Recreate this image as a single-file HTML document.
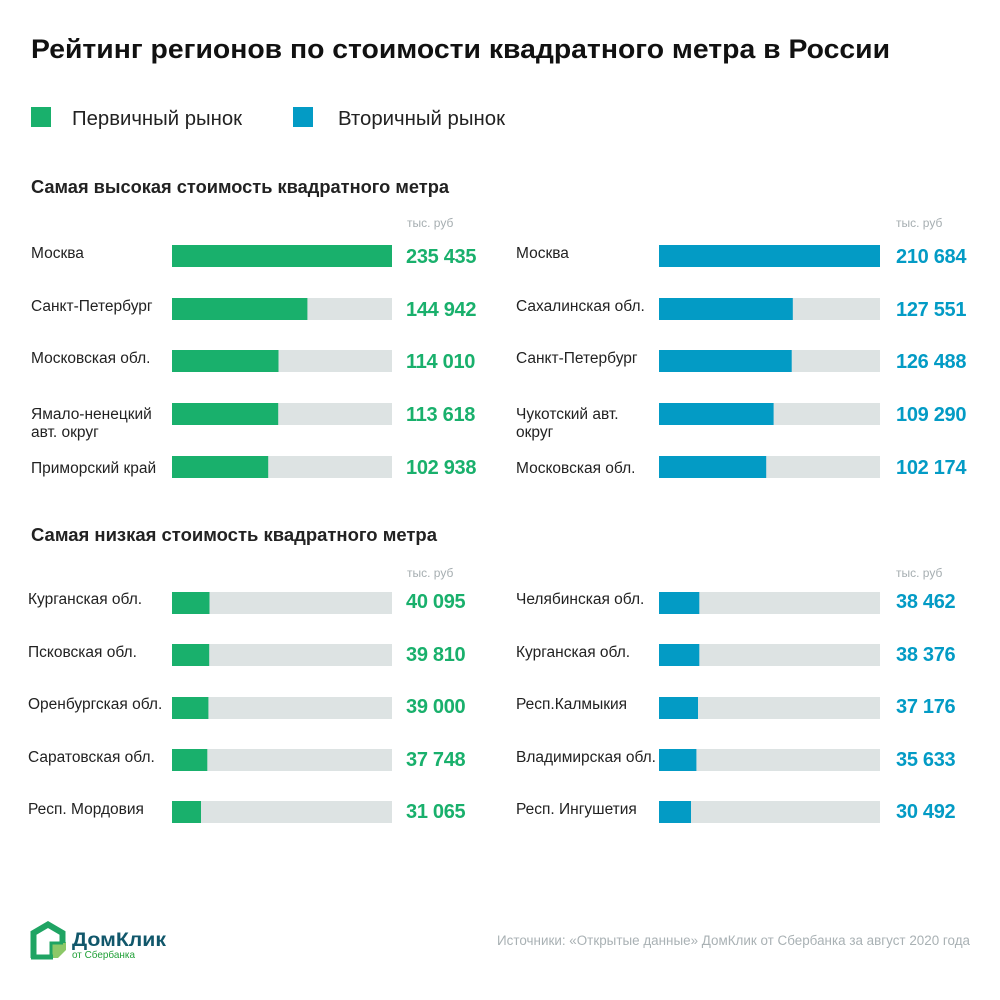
<!DOCTYPE html>
<html>
<head>
<meta charset="utf-8">
<style>
html,body{margin:0;padding:0;background:#fff;}
svg{display:block;}
text{font-family:"Liberation Sans","Noto Sans CJK SC",sans-serif;}
.lbl{font-size:15.5px;fill:#222;}
.val{font-size:20px;font-weight:bold;letter-spacing:-0.3px;}
.g{fill:#19b06c;}
.b{fill:#039bc5;}
.unit{font-size:12px;fill:#a6aeb1;}
.track{fill:#dde3e3;}
</style>
</head>
<body>
<svg width="1000" height="1000" viewBox="0 0 1000 1000" xmlns="http://www.w3.org/2000/svg">
<rect width="1000" height="1000" fill="#fff"/>
<text x="31" y="58" font-size="27" font-weight="bold" fill="#111" textLength="859" lengthAdjust="spacingAndGlyphs">Рейтинг регионов по стоимости квадратного метра в России</text>

<rect x="31" y="107" width="20" height="20" fill="#19b06c"/>
<text x="72" y="125" font-size="20" fill="#222" textLength="170" lengthAdjust="spacingAndGlyphs">Первичный рынок</text>
<rect x="293" y="107" width="20" height="20" fill="#039bc5"/>
<text x="338" y="125" font-size="20" fill="#222" textLength="167" lengthAdjust="spacingAndGlyphs">Вторичный рынок</text>

<text x="31" y="193" font-size="18" font-weight="bold" fill="#222" textLength="418" lengthAdjust="spacingAndGlyphs">Самая высокая стоимость квадратного метра</text>
<text x="31" y="541" font-size="18" font-weight="bold" fill="#222" textLength="406" lengthAdjust="spacingAndGlyphs">Самая низкая стоимость квадратного метра</text>

<text class="unit" x="407" y="227">тыс. руб</text>
<text class="unit" x="896" y="227">тыс. руб</text>
<text class="unit" x="407" y="577">тыс. руб</text>
<text class="unit" x="896" y="577">тыс. руб</text>

<!-- Top left -->
<rect class="track" x="172" y="245" width="220" height="22"/>
<rect class="g" x="172" y="245" width="220" height="22"/>
<text class="lbl" x="31" y="258">Москва</text>
<text class="val g" x="406" y="263">235 435</text>

<rect class="track" x="172" y="298" width="220" height="22"/>
<rect class="g" x="172" y="298" width="135.4" height="22"/>
<text class="lbl" x="31" y="311">Санкт-Петербург</text>
<text class="val g" x="406" y="316">144 942</text>

<rect class="track" x="172" y="350" width="220" height="22"/>
<rect class="g" x="172" y="350" width="106.5" height="22"/>
<text class="lbl" x="31" y="363">Московская обл.</text>
<text class="val g" x="406" y="368">114 010</text>

<rect class="track" x="172" y="403" width="220" height="22"/>
<rect class="g" x="172" y="403" width="106.2" height="22"/>
<text class="lbl" x="31" y="419">Ямало-ненецкий</text>
<text class="lbl" x="31" y="437">авт. округ</text>
<text class="val g" x="406" y="421">113 618</text>

<rect class="track" x="172" y="456" width="220" height="22"/>
<rect class="g" x="172" y="456" width="96.2" height="22"/>
<text class="lbl" x="31" y="473">Приморский край</text>
<text class="val g" x="406" y="474">102 938</text>

<!-- Top right -->
<rect class="track" x="659" y="245" width="221" height="22"/>
<rect class="b" x="659" y="245" width="221" height="22"/>
<text class="lbl" x="516" y="258">Москва</text>
<text class="val b" x="896" y="263">210 684</text>

<rect class="track" x="659" y="298" width="221" height="22"/>
<rect class="b" x="659" y="298" width="133.8" height="22"/>
<text class="lbl" x="516" y="311">Сахалинская обл.</text>
<text class="val b" x="896" y="316">127 551</text>

<rect class="track" x="659" y="350" width="221" height="22"/>
<rect class="b" x="659" y="350" width="132.7" height="22"/>
<text class="lbl" x="516" y="363">Санкт-Петербург</text>
<text class="val b" x="896" y="368">126 488</text>

<rect class="track" x="659" y="403" width="221" height="22"/>
<rect class="b" x="659" y="403" width="114.6" height="22"/>
<text class="lbl" x="516" y="419">Чукотский авт.</text>
<text class="lbl" x="516" y="437">округ</text>
<text class="val b" x="896" y="421">109 290</text>

<rect class="track" x="659" y="456" width="221" height="22"/>
<rect class="b" x="659" y="456" width="107.2" height="22"/>
<text class="lbl" x="516" y="473">Московская обл.</text>
<text class="val b" x="896" y="474">102 174</text>

<!-- Bottom left -->
<rect class="track" x="172" y="592" width="220" height="22"/>
<rect class="g" x="172" y="592" width="37.5" height="22"/>
<text class="lbl" x="28" y="604">Курганская обл.</text>
<text class="val g" x="406" y="608">40 095</text>

<rect class="track" x="172" y="644" width="220" height="22"/>
<rect class="g" x="172" y="644" width="37.2" height="22"/>
<text class="lbl" x="28" y="657">Псковская обл.</text>
<text class="val g" x="406" y="661">39 810</text>

<rect class="track" x="172" y="697" width="220" height="22"/>
<rect class="g" x="172" y="697" width="36.4" height="22"/>
<text class="lbl" x="28" y="709">Оренбургская обл.</text>
<text class="val g" x="406" y="713">39 000</text>

<rect class="track" x="172" y="749" width="220" height="22"/>
<rect class="g" x="172" y="749" width="35.3" height="22"/>
<text class="lbl" x="28" y="762">Саратовская обл.</text>
<text class="val g" x="406" y="766">37 748</text>

<rect class="track" x="172" y="801" width="220" height="22"/>
<rect class="g" x="172" y="801" width="29" height="22"/>
<text class="lbl" x="28" y="814">Респ. Мордовия</text>
<text class="val g" x="406" y="818">31 065</text>

<!-- Bottom right -->
<rect class="track" x="659" y="592" width="221" height="22"/>
<rect class="b" x="659" y="592" width="40.3" height="22"/>
<text class="lbl" x="516" y="604">Челябинская обл.</text>
<text class="val b" x="896" y="608">38 462</text>

<rect class="track" x="659" y="644" width="221" height="22"/>
<rect class="b" x="659" y="644" width="40.3" height="22"/>
<text class="lbl" x="516" y="657">Курганская обл.</text>
<text class="val b" x="896" y="661">38 376</text>

<rect class="track" x="659" y="697" width="221" height="22"/>
<rect class="b" x="659" y="697" width="39" height="22"/>
<text class="lbl" x="516" y="709">Респ.Калмыкия</text>
<text class="val b" x="896" y="713">37 176</text>

<rect class="track" x="659" y="749" width="221" height="22"/>
<rect class="b" x="659" y="749" width="37.4" height="22"/>
<text class="lbl" x="516" y="762">Владимирская обл.</text>
<text class="val b" x="896" y="766">35 633</text>

<rect class="track" x="659" y="801" width="221" height="22"/>
<rect class="b" x="659" y="801" width="32" height="22"/>
<text class="lbl" x="516" y="814">Респ. Ингушетия</text>
<text class="val b" x="896" y="818">30 492</text>

<!-- Logo -->
<polygon points="50,942 66,942 66,950 58,958 50,958" fill="#8cc868"/>
<path d="M33.5,958 L33.5,933 L48,924.5 L62.5,933 L62.5,943" fill="none" stroke="#1fa463" stroke-width="6" stroke-linejoin="miter"/>
<path d="M31,957 L53,957" fill="none" stroke="#1fa463" stroke-width="5"/>
<path d="M51,958 L51,943 L63,943" fill="none" stroke="#1fa463" stroke-width="3"/>
<text x="72" y="946" font-size="19" font-weight="bold" fill="#11576b" textLength="94" lengthAdjust="spacingAndGlyphs">ДомКлик</text>
<text x="72" y="958" font-size="10.5" fill="#21a038" textLength="63" lengthAdjust="spacingAndGlyphs">от Сбербанка</text>

<text x="497" y="945" font-size="13.5" fill="#a9b1b4" textLength="473" lengthAdjust="spacingAndGlyphs">Источники: «Открытые данные» ДомКлик от Сбербанка за август 2020 года</text>
</svg>
</body>
</html>
